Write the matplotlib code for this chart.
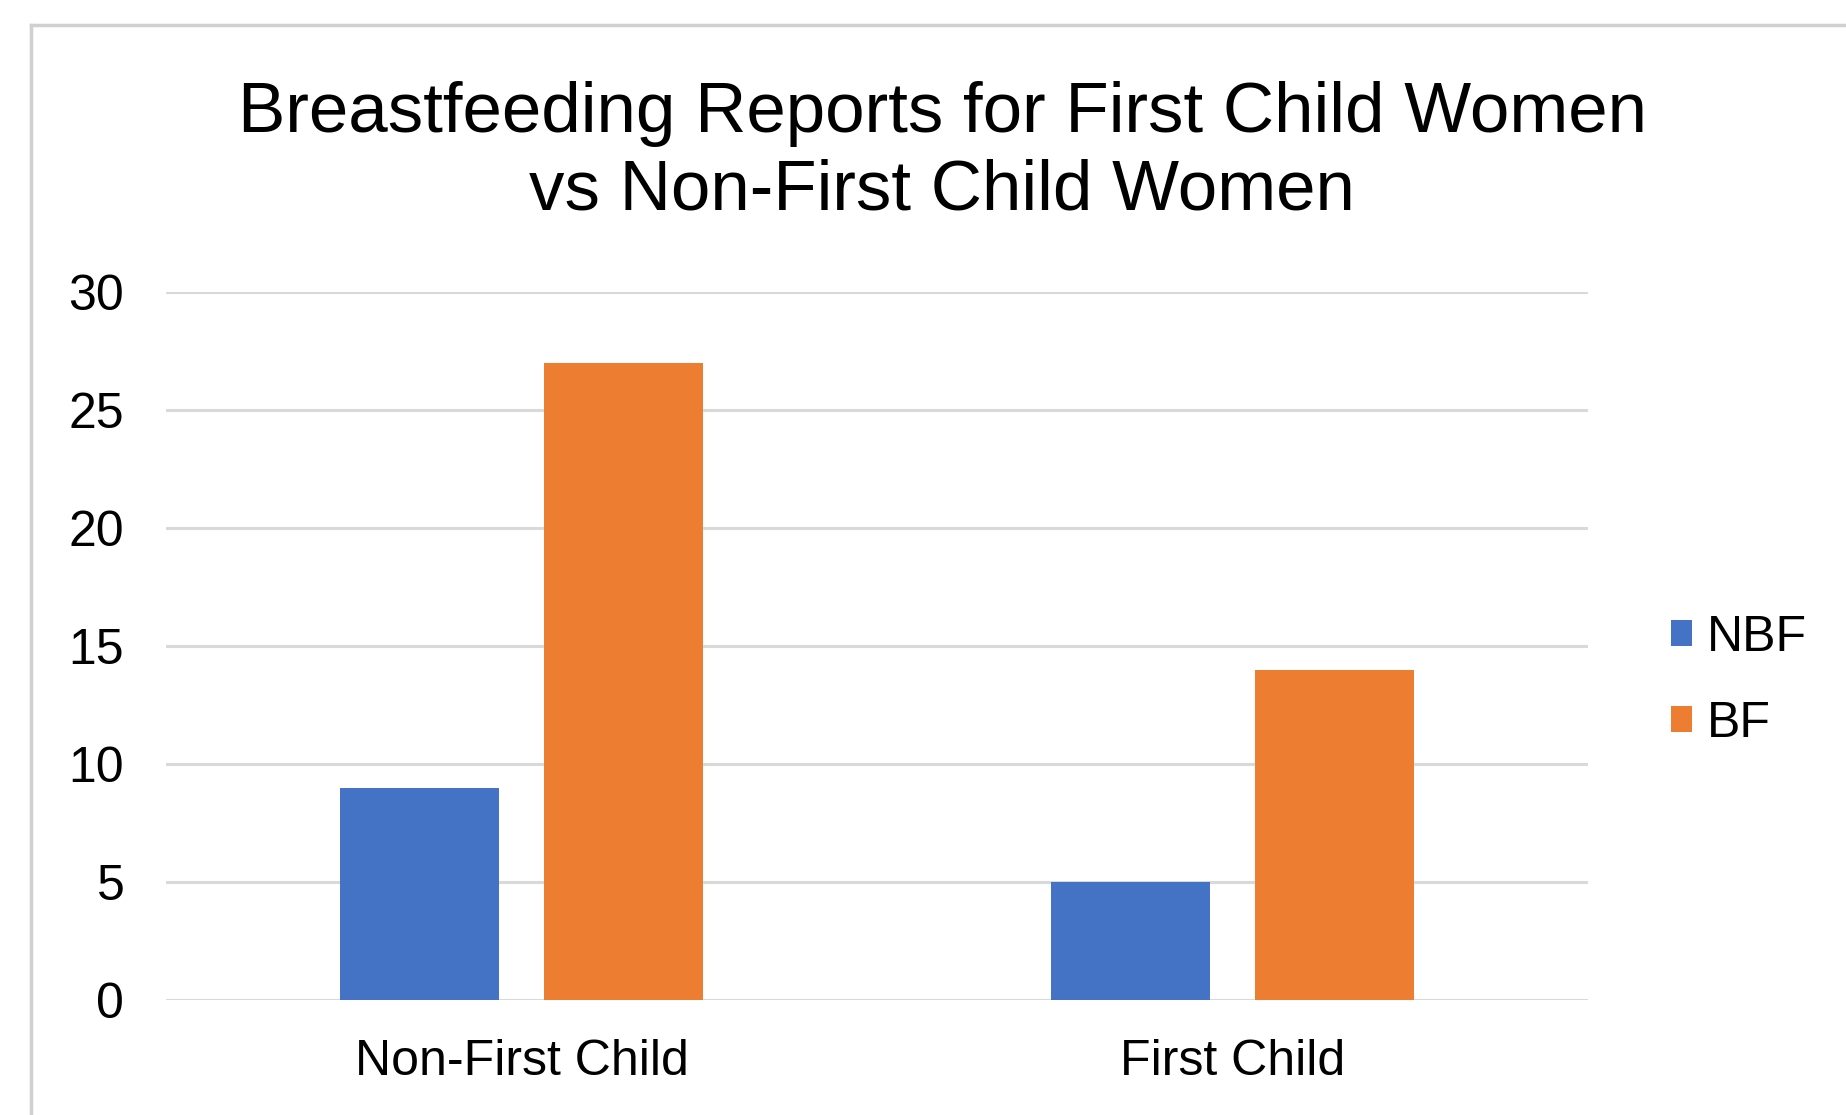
import matplotlib
matplotlib.use("Agg")
import matplotlib.pyplot as plt
from matplotlib.lines import Line2D
from matplotlib.patches import Patch
import numpy as np

plt.rcParams['font.family'] = ['Liberation Sans', 'DejaVu Sans']

title = "Breastfeeding Reports for First Child Women\nvs Non-First Child Women"
categories = ["Non-First Child", "First Child"]
series_names = ["NBF", "BF"]
nbf = [9, 5]
bf = [27, 14]
yticks = [0, 5, 10, 15, 20, 25, 30]

colors = ["#4472C4", "#ED7D31"]

W, H = 1846, 1115
fig = plt.figure(figsize=(W / 100, H / 100), dpi=100)
fig.patch.set_facecolor("white")

ax = fig.add_axes([166 / W, 1 - 1000 / H, (1588 - 166) / W, (1000 - 292) / H])
x = np.arange(len(categories))
bw = 0.224
off = 0.143
ax.bar(x - off, nbf, bw, color=colors[0], zorder=3, label=series_names[0])
ax.bar(x + off, bf, bw, color=colors[1], zorder=3, label=series_names[1])

ax.set_xlim(-0.5, 1.5)
ax.set_ylim(0, 30)
ax.set_yticks(yticks)
ax.set_yticklabels([str(t) for t in yticks])
ax.set_xticks(x)
ax.set_xticklabels(categories)
ax.tick_params(axis='y', length=0, pad=30, labelsize=36)
ax.tick_params(axis='x', length=0, pad=28, labelsize=36)
for s in ax.spines.values():
    s.set_visible(False)
ax.grid(axis='y', color="#D9D9D9", linewidth=2.2, zorder=0)
ax.set_axisbelow(True)

fig.text(942 / W, 1 - 153 / H, title, ha='center', va='center', fontsize=51,
         linespacing=1.23)

handles = [Patch(facecolor=c, edgecolor='none') for c in colors]
leg = fig.legend(handles, series_names, loc='center left',
                 bbox_to_anchor=(1626 / W, 1 - 681 / H), frameon=False,
                 fontsize=36, handlelength=0.42, handleheight=0.42,
                 handletextpad=0.3, labelspacing=0.8)

# border (left and top)
fig.add_artist(Line2D([31 / W, 31 / W], [0, 1 - 25 / H], color="#D0D0D0", linewidth=2.5,
                      transform=fig.transFigure))
fig.add_artist(Line2D([31 / W, 1], [1 - 25 / H, 1 - 25 / H], color="#D0D0D0", linewidth=2.5,
                      transform=fig.transFigure))

fig.savefig("out.png", dpi=100, facecolor="white")
